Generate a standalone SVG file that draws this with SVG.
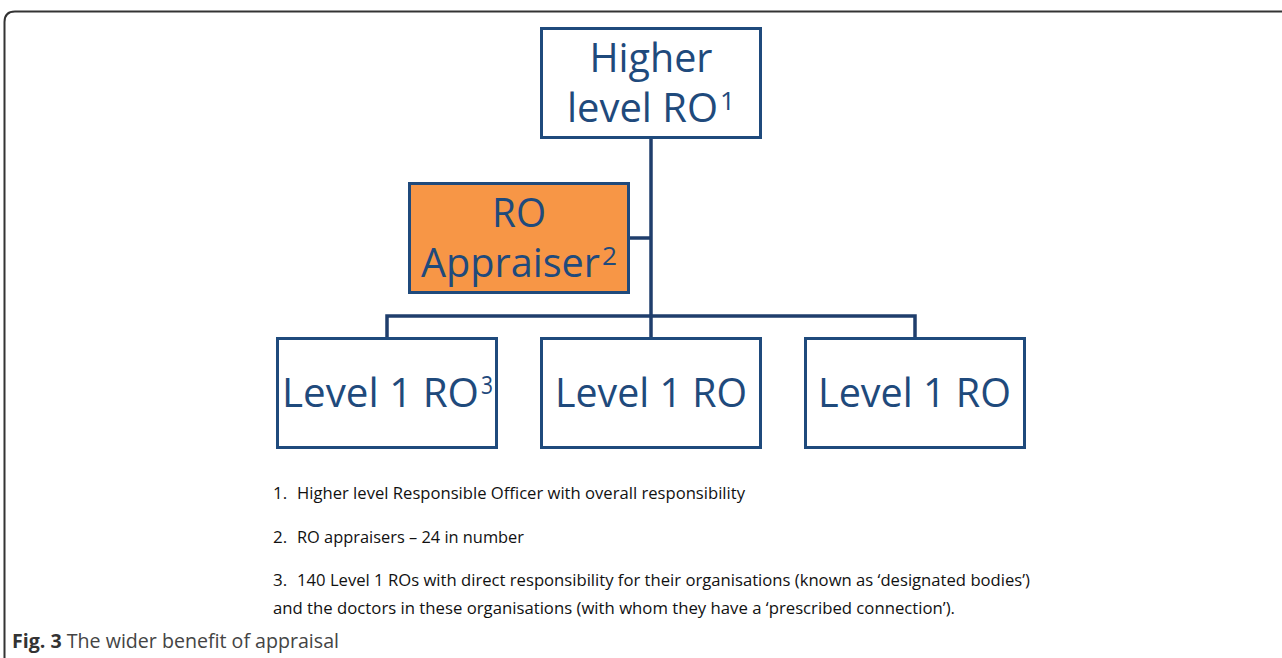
<svg xmlns="http://www.w3.org/2000/svg" width="1282" height="658" viewBox="0 0 1282 658">
<style>
.box{fill:#ffffff;stroke:#1f4a7c;stroke-width:3}
.orange{fill:#f79646;stroke:#1f4a7c;stroke-width:3}
.bt{font-family:"Open Sans","Noto Sans",sans-serif;font-size:40px;fill:#1f4a7c}
.sup{font-family:"Open Sans","Noto Sans",sans-serif;font-size:26px;fill:#1f4a7c}
.note{font-family:"Open Sans","Noto Sans",sans-serif;font-size:17px;fill:#111111}
.conn{fill:none;stroke:#1f3e6c;stroke-width:3.5}
.cap{font-family:"Open Sans","Noto Sans",sans-serif;font-size:20px;fill:#444444}
</style>
<rect width="1282" height="658" fill="#ffffff"/>
<path d="M4.5,658 L4.5,22 Q4.5,11.5 15,11.5 L1282,11.5" fill="none" stroke="#333333" stroke-width="2"/>
<g id="connectors">
<path class="conn" d="M651,138 L651,338"/>
<path class="conn" d="M628,238 L651,238"/>
<path class="conn" d="M387,338 L387,316 L915,316 L915,338"/>
</g>
<g id="higher">
<rect class="box" x="541.5" y="28.5" width="219" height="109"/>
<text class="bt" x="651" y="72" text-anchor="middle" textLength="123" lengthAdjust="spacingAndGlyphs">Higher</text>
<text class="bt" x="567" y="122" textLength="151" lengthAdjust="spacingAndGlyphs">level RO</text>
<text class="sup" x="720" y="110" textLength="15" lengthAdjust="spacingAndGlyphs">1</text>
</g>
<g id="appraiser">
<rect class="orange" x="409.5" y="183.5" width="219" height="109"/>
<text class="bt" x="519" y="227" text-anchor="middle" textLength="54" lengthAdjust="spacingAndGlyphs">RO</text>
<text class="bt" x="421" y="277" textLength="179" lengthAdjust="spacingAndGlyphs">Appraiser</text>
<text class="sup" x="602" y="265" textLength="15" lengthAdjust="spacingAndGlyphs">2</text>
</g>
<g id="level1a">
<rect class="box" x="277.5" y="338.5" width="219" height="109"/>
<text class="bt" x="282" y="407" textLength="197" lengthAdjust="spacingAndGlyphs">Level 1 RO</text>
<text class="sup" x="481" y="394" textLength="12" lengthAdjust="spacingAndGlyphs">3</text>
</g>
<g id="level1b">
<rect class="box" x="541.5" y="338.5" width="219" height="109"/>
<text class="bt" x="555" y="407" textLength="192" lengthAdjust="spacingAndGlyphs">Level 1 RO</text>
</g>
<g id="level1c">
<rect class="box" x="805.5" y="338.5" width="219" height="109"/>
<text class="bt" x="818" y="407" textLength="193" lengthAdjust="spacingAndGlyphs">Level 1 RO</text>
</g>
<g id="notes">
<text class="note" x="273" y="499">1.</text>
<text class="note" x="297" y="499" textLength="448" lengthAdjust="spacingAndGlyphs">Higher level Responsible Officer with overall responsibility</text>
<text class="note" x="273" y="543">2.</text>
<text class="note" x="297" y="543" textLength="227" lengthAdjust="spacingAndGlyphs">RO appraisers – 24 in number</text>
<text class="note" x="273" y="586">3.</text>
<text class="note" x="297" y="586" textLength="733" lengthAdjust="spacingAndGlyphs">140 Level 1 ROs with direct responsibility for their organisations (known as ‘designated bodies’)</text>
<text class="note" x="273" y="614" textLength="682" lengthAdjust="spacingAndGlyphs">and the doctors in these organisations (with whom they have a ‘prescribed connection’).</text>
</g>
<text class="cap" x="12" y="648" textLength="327" lengthAdjust="spacingAndGlyphs"><tspan font-weight="bold" fill="#333333">Fig. 3</tspan> The wider benefit of appraisal</text>
</svg>
